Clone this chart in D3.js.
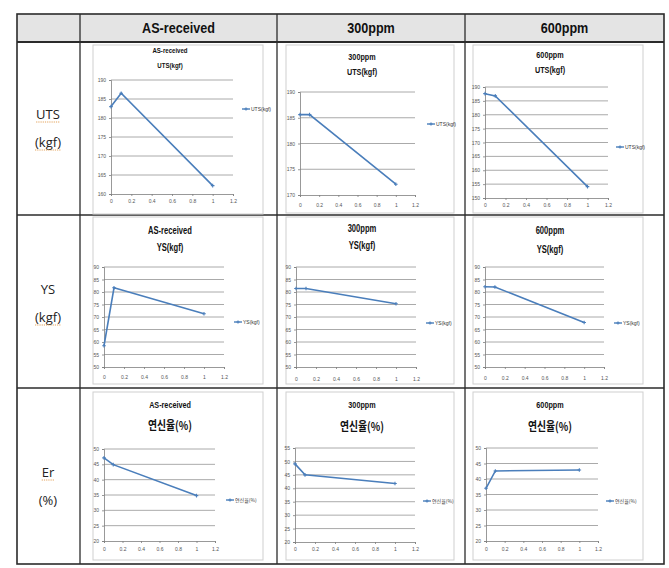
<!DOCTYPE html>
<html><head><meta charset="utf-8">
<script src="https://cdn.jsdelivr.net/npm/d3@7"></script>
<style>body{margin:0;background:#fff}svg{display:block}</style>
</head><body>
<svg id="c" width="669" height="568"></svg>
<script>
// ---------- data ----------
const conditions = ["AS-received", "300ppm", "600ppm"];
const rowLabels = [["UTS", "(kgf)"], ["YS", "(kgf)"], ["Er", "(%)"]];
const properties = ["UTS(kgf)", "YS(kgf)", "연신율(%)"];
const xValues = [0, 0.1, 1];
const xTicks = [0, 0.2, 0.4, 0.6, 0.8, 1, 1.2];
const utsValues = [[183.0, 186.5, 162.2], [185.6, 185.6, 172.1], [187.6, 186.8, 154.1]];
const ysValues  = [[58.5, 81.7, 71.3], [81.4, 81.4, 75.3], [82.1, 82.0, 67.8]];
const erValues  = [[47.1, 44.9, 34.8], [49.1, 45.0, 41.8], [37.0, 42.6, 42.9]];
const utsTicks = [[160,165,170,175,180,185,190],[170,175,180,185,190],[150,155,160,165,170,175,180,185,190]];
const ysTicks  = [[50,55,60,65,70,75,80,85,90],[50,55,60,65,70,75,80,85,90],[50,55,60,65,70,75,80,85,90]];
const erTicks  = [[20,25,30,35,40,45,50],[20,25,30,35,40,45,50,55],[20,25,30,35,40,45,50]];
const seriesByRow = [utsValues, ysValues, erValues];
const ticksByRow = [utsTicks, ysTicks, erTicks];

// ---------- layout ----------
const table = {x0: 17, x1: 664, y0: 14, y1: 564, head: 42, rows: [42, 215, 388, 564], cols: [17, 80, 277, 465, 664]};
const layout = [
  [ {box:[93,45,170,169], px:[111,233], py:[80,194], t:[53,68], ts:[8,8], lg:[242,109], xl:201},
    {box:[286,45,168,168], px:[300,415], py:[92,195], t:[60,75], ts:[9.5,9.5], lg:[427,124], xl:205},
    {box:[473,45,170,168], px:[485,608], py:[87,198], t:[58,73], ts:[9.5,9.5], lg:[616,147], xl:205} ],
  [ {box:[93,217,170,167], px:[104,224], py:[267,367], t:[234,251], ts:[10,10], lg:[234,322], xl:377},
    {box:[286,217,168,167], px:[296,416], py:[267,367], t:[232,249], ts:[10,10], lg:[426,323], xl:379},
    {box:[473,217,170,167], px:[485,604], py:[267,367], t:[234,253], ts:[10,10], lg:[614,323], xl:378} ],
  [ {box:[93,392,170,168], px:[104,215], py:[449,541], t:[408,430], ts:[9.5,12], lg:[226,500], xl:549},
    {box:[286,392,168,168], px:[295,415], py:[448,542], t:[408,431], ts:[9.5,12], lg:[423,501], xl:549},
    {box:[473,392,170,168], px:[486,598], py:[448,541], t:[408,431], ts:[9.5,12], lg:[606,501], xl:549} ]
];

const LINE = "#4a7ebb";
const latinBold = "'Liberation Sans',Arial,sans-serif";
const kr = "'Noto Sans CJK KR','Noto Sans',sans-serif";
const svg = d3.select("#c");

function squeeze(sel, f) {
  const w = sel.node().getComputedTextLength();
  sel.attr("textLength", w * f).attr("lengthAdjust", "spacingAndGlyphs");
}

// ---------- table ----------
svg.append("rect").attr("x", table.x0).attr("y", table.y0)
  .attr("width", table.x1 - table.x0).attr("height", table.head - table.y0).attr("fill", "#e4e4e4");
const grid = svg.append("g").attr("stroke", "#2b2b2b").attr("fill", "none");
grid.append("rect").attr("x", table.x0).attr("y", table.y0)
  .attr("width", table.x1 - table.x0).attr("height", table.y1 - table.y0).attr("stroke-width", 1.6);
table.cols.slice(1, -1).forEach(x => grid.append("line").attr("x1", x).attr("x2", x).attr("y1", table.y0).attr("y2", table.y1).attr("stroke-width", 1.3));
table.rows.slice(0, -1).forEach((y, i) => grid.append("line").attr("x1", table.x0).attr("x2", table.x1).attr("y1", y).attr("y2", y).attr("stroke-width", i === 0 ? 2 : 1.3));

conditions.forEach((c, i) => {
  const t = svg.append("text").attr("x", (table.cols[i + 1] + table.cols[i + 2]) / 2).attr("y", 33)
    .attr("text-anchor", "middle").attr("font-family", latinBold).attr("font-weight", "bold")
    .attr("font-size", 14).attr("fill", "#111").text(c);
  squeeze(t, 0.9);
});
const labelYs = [[119, 147], [294, 322], [477, 505]];
rowLabels.forEach((lab, i) => {
  lab.forEach((t, j) => {
    const tx = svg.append("text").attr("x", 48).attr("y", labelYs[i][j]).attr("text-anchor", "middle")
      .attr("font-family", "'Open Sans',sans-serif").attr("font-size", 13).attr("fill", "#222").text(t);
    const w = tx.node().getComputedTextLength();
    const wavy = (i === 0) || (j === 1 && i === 1) || (i === 2 && j === 0);
    if (wavy) {
      svg.append("line").attr("x1", 48 - w / 2).attr("x2", 48 + w / 2)
        .attr("y1", labelYs[i][j] + 3).attr("y2", labelYs[i][j] + 3)
        .attr("stroke", "#e3a25a").attr("stroke-width", 1).attr("stroke-dasharray", "1.2,1");
    }
  });
});

// ---------- charts ----------
function drawChart(r, c) {
  const L = layout[r][c];
  const vals = seriesByRow[r][c];
  const ticks = ticksByRow[r][c];
  const g = svg.append("g");
  g.append("rect").attr("x", L.box[0]).attr("y", L.box[1]).attr("width", L.box[2]).attr("height", L.box[3])
    .attr("fill", "#fff").attr("stroke", "#cfcfcf").attr("stroke-width", 1);
  const x = d3.scaleLinear().domain([0, 1.2]).range(L.px);
  const y = d3.scaleLinear().domain([ticks[0], ticks[ticks.length - 1]]).range([L.py[1], L.py[0]]);
  const cx = (L.box[0] * 2 + L.box[2]) / 2 - 8;
  const titleFont = r === 2 ? [latinBold, kr] : [latinBold, latinBold];
  [conditions[c], properties[r]].forEach((t, k) => {
    const tt = g.append("text").attr("x", cx).attr("y", L.t[k]).attr("text-anchor", "middle")
      .attr("font-family", titleFont[k]).attr("font-weight", "bold").attr("font-size", L.ts[k])
      .attr("fill", "#111").text(t);
    squeeze(tt, titleFont[k] === kr ? 0.82 : 0.76);
  });
  g.append("g").selectAll("line").data(ticks.slice(1)).join("line")
    .attr("x1", L.px[0]).attr("x2", L.px[1]).attr("y1", d => y(d)).attr("y2", d => y(d))
    .attr("stroke", "#949494").attr("stroke-width", 0.8);
  const ay = g.append("g").attr("transform", `translate(${L.px[0]},0)`)
    .call(d3.axisLeft(y).tickValues(ticks).tickSize(2).tickPadding(3).tickFormat(d3.format("d")));
  const ax = g.append("g").attr("transform", `translate(0,${L.py[1]})`)
    .call(d3.axisBottom(x).tickValues(xTicks).tickSize(2).tickPadding(3).tickFormat(d => d3.format("")(d)));
  [ay, ax].forEach(a => {
    a.select(".domain").attr("stroke", "#7f7f7f").attr("stroke-width", 0.8);
    a.selectAll(".tick line").attr("stroke", "#7f7f7f").attr("stroke-width", 0.8);
    a.selectAll("text").attr("font-family", "'Liberation Sans',sans-serif").attr("font-size", 5).attr("fill", "#555");
  });
  ax.selectAll("text").attr("dy", null).attr("y", L.xl - L.py[1] + 1.5);
  const pts = xValues.map((xv, i) => [xv, vals[i]]);
  g.append("path").datum(pts).attr("fill", "none").attr("stroke", LINE).attr("stroke-width", 1.6)
    .attr("d", d3.line().x(d => x(d[0])).y(d => y(d[1])));
  g.append("g").selectAll("path").data(pts).join("path")
    .attr("transform", d => `translate(${x(d[0])},${y(d[1])})`)
    .attr("d", "M-1.8,0H1.8M0,-1.8V1.8").attr("stroke", LINE).attr("stroke-width", 1.1);
  const lg = g.append("g").attr("transform", `translate(${L.lg[0]},${L.lg[1]})`);
  lg.append("line").attr("x1", 0).attr("x2", 8).attr("stroke", LINE).attr("stroke-width", 1.4);
  lg.append("path").attr("transform", "translate(4,0)").attr("d", "M-1.6,0H1.6M0,-1.6V1.6").attr("stroke", LINE).attr("stroke-width", 1);
  lg.append("text").attr("x", 9).attr("y", 1.8).attr("font-family", r === 2 ? kr : "'Liberation Sans',sans-serif")
    .attr("font-size", 5).attr("fill", "#333").text(properties[r]);
}
for (let r = 0; r < 3; r++) for (let c = 0; c < 3; c++) drawChart(r, c);
</script>
</body></html>
